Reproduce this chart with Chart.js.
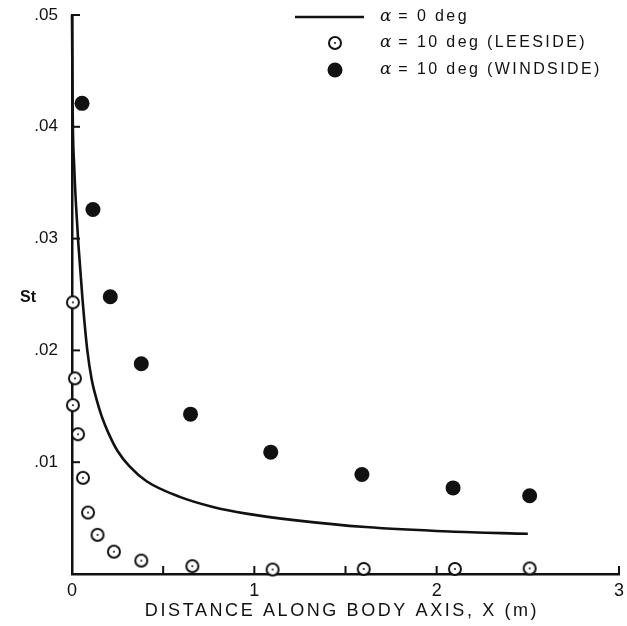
<!DOCTYPE html>
<html>
<head>
<meta charset="utf-8">
<script src="https://cdn.jsdelivr.net/npm/chart.js@4.4.1/dist/chart.umd.min.js"></script>
<style>
html,body{margin:0;padding:0;background:#fff;}
#wrap{width:627px;height:626px;position:relative;}
</style>
</head>
<body>
<div id="wrap"><canvas id="c" width="627" height="626"></canvas></div>
<script>
// ---- data ----
const seriesNames = ['\u03b1 = 0 deg', '\u03b1 = 10 deg (LEESIDE)', '\u03b1 = 10 deg (WINDSIDE)'];

const curveX = [0.0, 0.004, 0.012, 0.022, 0.035, 0.058, 0.084, 0.108, 0.135, 0.163, 0.20, 0.25, 0.317, 0.409, 0.591, 0.773, 0.956, 1.23, 1.61, 2.07, 2.50];
const curveY = [0.050, 0.041, 0.0365, 0.0330, 0.0295, 0.0245, 0.0200, 0.0174, 0.0156, 0.0141, 0.0126, 0.0110, 0.0096, 0.0083, 0.0069, 0.0060, 0.0054, 0.0048, 0.0042, 0.0038, 0.0036];

const leeX = [0.005, 0.016, 0.005, 0.033, 0.06, 0.088, 0.14, 0.23, 0.38, 0.66, 1.10, 1.60, 2.10, 2.51];
const leeY = [0.0243, 0.0175, 0.0151, 0.0125, 0.0086, 0.0055, 0.0035, 0.0020, 0.0012, 0.0007, 0.0004, 0.00045, 0.00045, 0.0005];

const windX = [0.055, 0.115, 0.21, 0.38, 0.65, 1.09, 1.59, 2.09, 2.51];
const windY = [0.0421, 0.0326, 0.0248, 0.0188, 0.0143, 0.0109, 0.0089, 0.0077, 0.0070];

const xTickLabels = [0, 1, 2, 3];
const xTickMarks = [0.5, 1, 1.5, 2, 3];
const yTickLabels = ['.01', '.02', '.03', '.04', '.05'];
const yTickValues = [0.01, 0.02, 0.03, 0.04, 0.05];

const xTitle = 'DISTANCE ALONG BODY AXIS, X (m)';
const yTitle = 'St';

// ---- build ----
const zip = (xs, ys) => xs.map((x, i) => ({x: x, y: ys[i]}));

function openDot() {
  const cv = document.createElement('canvas');
  cv.width = 16; cv.height = 16;
  const g = cv.getContext('2d');
  g.fillStyle = '#fff';
  g.strokeStyle = '#111';
  g.lineWidth = 2;
  g.beginPath(); g.arc(8, 8, 6, 0, Math.PI * 2); g.fill(); g.stroke();
  g.fillStyle = '#111';
  g.beginPath(); g.arc(8, 8, 1, 0, Math.PI * 2); g.fill();
  return cv;
}
const openImg = openDot();

const FONT = '"Liberation Sans", Arial, Helvetica, sans-serif';
const INK = '#111';

const decor = {
  id: 'decor',
  afterDraw(chart) {
    const ctx = chart.ctx;
    const xs = chart.scales.x, ys = chart.scales.y;
    const a = chart.chartArea;
    ctx.save();
    ctx.strokeStyle = INK;
    ctx.lineWidth = 2;
    // inward tick marks
    xTickMarks.forEach(v => {
      const p = xs.getPixelForValue(v);
      ctx.beginPath(); ctx.moveTo(p, a.bottom); ctx.lineTo(p, a.bottom - 8); ctx.stroke();
    });
    yTickValues.forEach(v => {
      const p = ys.getPixelForValue(v);
      ctx.beginPath(); ctx.moveTo(a.left, p); ctx.lineTo(a.left + 8, p); ctx.stroke();
    });
    // y title
    ctx.fillStyle = INK;
    ctx.font = 'bold 16px ' + FONT;
    ctx.textAlign = 'left';
    ctx.textBaseline = 'middle';
    ctx.fillText(yTitle, 20, 298);

    // x title
    ctx.font = '18px ' + FONT;
    ctx.letterSpacing = '2.6px';
    ctx.textAlign = 'center';
    ctx.fillText(xTitle, 342, 611);
    ctx.textAlign = 'left';

    // legend
    const rows = [17, 43, 70];
    const symX = 335, txtX = 380;
    const ds = chart.data.datasets;
    ctx.strokeStyle = ds[0].borderColor;
    ctx.lineWidth = ds[0].borderWidth;
    ctx.beginPath(); ctx.moveTo(295, rows[0]); ctx.lineTo(364, rows[0]); ctx.stroke();
    ctx.drawImage(openImg, symX - 8, rows[1] - 8);
    ctx.fillStyle = ds[2].backgroundColor;
    ctx.beginPath(); ctx.arc(symX, rows[2], 7.5, 0, Math.PI * 2); ctx.fill();

    ctx.fillStyle = INK;
    seriesNames.forEach((name, i) => {
      const alpha = name.charAt(0);
      const rest = name.slice(1);
      ctx.letterSpacing = '0px';
      ctx.font = 'italic 17px "DejaVu Serif", serif';
      ctx.fillText(alpha, txtX, rows[i]);
      const w = ctx.measureText(alpha).width;
      ctx.font = '16px ' + FONT;
      ctx.letterSpacing = '2.4px';
      ctx.fillText(rest, txtX + w, rows[i]);
    });
    ctx.restore();
  }
};

new Chart(document.getElementById('c'), {
  type: 'scatter',
  data: {
    datasets: [
      {
        label: seriesNames[0],
        type: 'line',
        data: zip(curveX, curveY),
        borderColor: INK,
        borderWidth: 2.6,
        pointRadius: 0,
        fill: false,
        clip: false,
        cubicInterpolationMode: 'monotone'
      },
      {
        label: seriesNames[1],
        data: zip(leeX, leeY),
        pointStyle: openImg,
        pointRadius: 7,
        clip: false,
        backgroundColor: '#fff',
        borderColor: INK
      },
      {
        label: seriesNames[2],
        data: zip(windX, windY),
        pointStyle: 'circle',
        pointRadius: 7.5,
        borderWidth: 0,
        clip: false,
        backgroundColor: INK,
        borderColor: INK
      }
    ]
  },
  options: {
    responsive: false,
    animation: false,
    layout: {padding: {left: 0, right: 7, top: 15, bottom: 0}},
    plugins: {legend: {display: false}, tooltip: {enabled: false}},
    scales: {
      x: {
        type: 'linear',
        min: 0, max: 3,
        afterFit(s) { s.height = 52; s.paddingLeft = 0; s.paddingRight = 0; },
        afterBuildTicks(s) { s.ticks = xTickLabels.map(v => ({value: v})); },
        grid: {display: false, drawTicks: false},
        border: {display: true, color: INK, width: 2.5},
        ticks: {
          color: INK,
          padding: 6,
          font: {family: FONT, size: 18},
          callback: v => String(v),
          maxRotation: 0
        },
        title: {display: false}
      },
      y: {
        type: 'linear',
        min: 0, max: 0.05,
        afterFit(s) { s.width = 72; s.paddingTop = 0; s.paddingBottom = 0; },
        afterBuildTicks(s) { s.ticks = yTickValues.map(v => ({value: v})); },
        grid: {display: false, drawTicks: false},
        border: {display: true, color: INK, width: 2.5},
        ticks: {
          color: INK,
          padding: 14,
          font: {family: FONT, size: 17},
          callback: (v) => {
            const i = yTickValues.findIndex(t => Math.abs(t - v) < 1e-9);
            return i >= 0 ? yTickLabels[i] : '';
          }
        }
      }
    }
  },
  plugins: [decor]
});
</script>
</body>
</html>
